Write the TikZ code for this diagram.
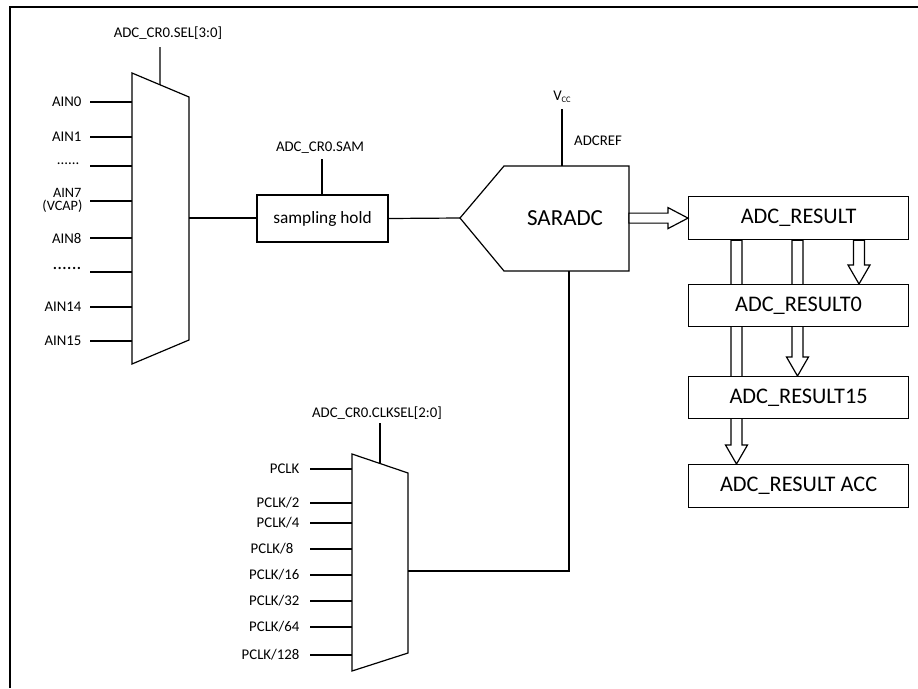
\documentclass[tikz,border=0pt]{standalone}
\usepackage{fontspec}
\setmainfont{Carlito}
\usetikzlibrary{calc,backgrounds}
\newcommand\harr[2]{\draw[line width=1.2pt,fill=white] let \p1=(#1), \p2=(#2) in (\x1,\y1+5pt) -- (\x2-20pt,\y1+5pt) -- (\x2-20pt,\y1+10.5pt) -- (\x2,\y1) -- (\x2-20pt,\y1-10.5pt) -- (\x2-20pt,\y1-5pt) -- (\x1,\y1-5pt) -- cycle;}
\newcommand\varr[2]{\draw[line width=1.2pt,fill=white] let \p1=(#1), \p2=(#2) in (\x1-5.5pt,\y1) -- (\x1-5.5pt,\y2+19pt) -- (\x1-11pt,\y2+19pt) -- (\x1,\y2) -- (\x1+11pt,\y2+19pt) -- (\x1+5.5pt,\y2+19pt) -- (\x1+5.5pt,\y1) -- cycle;}
\begin{document}
\begin{tikzpicture}[x=1pt,y=-1pt,line width=1.2pt,line join=miter,
  lbl/.style={font=\fontsize{14.8}{12.5}\selectfont,inner sep=0pt},
  reg/.style={draw,fill=white,minimum width=220pt,minimum height=43pt,inner sep=0pt,font=\fontsize{22.3}{24}\selectfont,anchor=north west},
  pin/.style={line width=1.2pt}]
\useasboundingbox (0,0) rectangle (918,688);
\draw[line width=2pt] (10,688) -- (10,6.5) -- (918,6.5);
% ---------- analog mux
\coordinate (m1tl) at (132,73);
\coordinate (m1tr) at (189,97);
\coordinate (m1br) at (189,340);
\coordinate (m1bl) at (132,364);
\draw (m1tl) -- (m1tr) -- (m1br) -- (m1bl) -- cycle;
\coordinate (m1out) at (189,218);
\coordinate (sel1) at (160,47);
\draw (sel1) -- ($(m1tl)!0.491!(m1tr)$);
\node[lbl] (sel1l) at (168,33) {ADC\_CR0.SEL[3:0]};
\foreach \y/\t/\n in {102/AIN0/a0,137/AIN1/a1,238/AIN8/a8,307/AIN14/a14,341/AIN15/a15}{
  \coordinate (\n) at (90,\y);
  \draw[pin] (\n) -- (\n -| m1tl);
  \node[lbl,anchor=east] (\n l) at (82,\y) {\t};
}
\coordinate (a7) at (90,201);
\draw[pin] (a7) -- (a7 -| m1tl);
\node[lbl,anchor=east,font=\fontsize{14.3}{12}\selectfont] (a7l) at (82,192.5) {AIN7};
\node[lbl,anchor=east,font=\fontsize{14.3}{12}\selectfont] (a7v) at (83,206.5) {(VCAP)};
\coordinate (d1) at (90,166);
\draw[pin] (d1) -- (d1 -| m1tl);
\node[lbl,anchor=east] (d1l) at (80,164) {......};
\coordinate (d2) at (90,272);
\draw[pin] (d2) -- (d2 -| m1tl);
\node[lbl,anchor=east,font=\fontsize{19}{19}\selectfont] (d2l) at (82,268) {......};
% ---------- sampling hold
\node[draw,minimum width=131pt,minimum height=47pt,inner sep=0pt,font=\fontsize{17.3}{20}\selectfont] (sh) at (322.5,218.5) {sampling hold};
\draw (m1out) -- (m1out -| sh.west);
\coordinate (sam) at (322,159);
\draw (sam) -- (sam |- sh.north);
\node[lbl] (saml) at (320,148) {ADC\_CR0.SAM};
% ---------- SARADC
\coordinate (sartip) at (460,218);
\coordinate (sartl) at (504,166);
\coordinate (sartr) at (629,166);
\coordinate (sarbr) at (629,271);
\coordinate (sarbl) at (504,271);
\draw (sartip) -- (sartl) -- (sartr) -- (sarbr) -- (sarbl) -- cycle;
\node[font=\fontsize{23}{24}\selectfont,inner sep=0pt] (sar) at (565,218) {SARADC};
\draw (sh.east) -- (sartip);
\coordinate (vcc) at (562,109);
\draw (vcc) -- (vcc |- sartl);
\node[lbl] (vccl) at (562,97) {V\raisebox{-2pt}{\fontsize{8.5}{8}\selectfont CC}};
\node[lbl] (adcref) at (598,141) {ADCREF};
% ---------- clock mux
\coordinate (m2tl) at (352,454);
\coordinate (m2tr) at (408,473);
\coordinate (m2br) at (408,653);
\coordinate (m2bl) at (352,671);
\draw (m2tl) -- (m2tr) -- (m2br) -- (m2bl) -- cycle;
\coordinate (m2out) at (408,571);
\coordinate (sel2) at (380,423);
\draw (sel2) -- ($(m2tl)!0.5!(m2tr)$);
\node[lbl] (sel2l) at (377,413) {ADC\_CR0.CLKSEL[2:0]};
\foreach \y/\t/\n/\xx in {469/PCLK/c1/300,503/PCLK\slash 2/c2/300,523/PCLK\slash 4/c4/300,549/PCLK\slash 8/c8/294,575/PCLK\slash 16/c16/300,601/PCLK\slash 32/c32/300,627/PCLK\slash 64/c64/300,655/PCLK\slash 128/c128/300}{
  \coordinate (\n) at (310,\y);
  \draw[pin] (\n) -- (\n -| m2tl);
  \node[lbl,anchor=east] (\n l) at (\xx,\y) {\t};
}
\coordinate (sarb) at (569,271);
\draw (sarb) -- (sarb |- m2out) -- (m2out);
% ---------- result registers
\node[reg] (res) at (688,196) {ADC\_RESULT};
\node[reg,minimum height=42pt] (r0) at (688,284) {ADC\_RESULT0};
\node[reg,minimum height=42pt] (r15) at (688,376) {ADC\_RESULT15};
\node[reg] (acc) at (688,464) {ADC\_RESULT ACC};
\harr{sartr |- res.west}{res.west}
\begin{pgfonlayer}{background}
\varr{$(res.south west)+(48.5,0)$}{$(acc.north west)+(48.5,0)$}
\varr{$(res.south west)+(109.5,0)$}{$(r15.north west)+(109.5,0)$}
\varr{$(res.south west)+(171,0)$}{$(r0.north west)+(171,0)$}
\end{pgfonlayer}
\end{tikzpicture}
\end{document}
